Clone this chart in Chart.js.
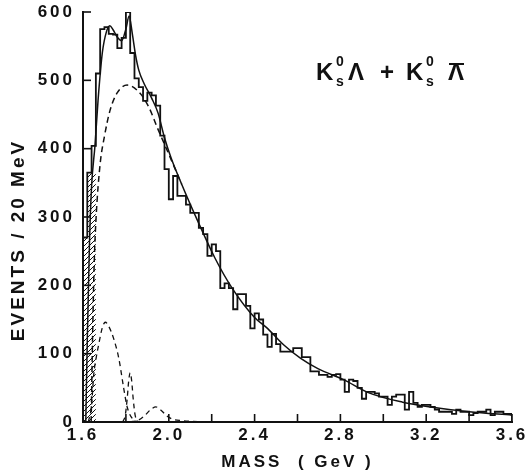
<!DOCTYPE html>
<html>
<head>
<meta charset="utf-8">
<script src="https://cdn.jsdelivr.net/npm/chart.js@4.4.0/dist/chart.umd.min.js"></script>
<style>
  html, body { margin: 0; padding: 0; background: #fff; }
  #wrap { width: 525px; height: 475px; }
</style>
</head>
<body>
<div id="wrap"><canvas id="massChart" width="525" height="475"></canvas></div>
<script>
// Histogram: 20 MeV bins starting at 1.60 GeV
const binStart = 1.60;
const binWidth = 0.02;
const hatchedBins = 3;
const counts = [
  40, 270, 365, 404, 510, 575, 578, 568, 567, 547,
  562, 600, 540, 503, 490, 470, 482, 478, 463, 419,
  370, 326, 360, 331, 331, 318, 306, 306, 284, 275,
  243, 260, 250, 196, 203, 196, 165, 187, 187, 170,
  137, 159, 150, 128, 110, 129, 114, 103, 103, 103,
  108, 108, 95, 95, 74, 74, 69, 69, 66, 69,
  70, 62, 44, 62, 60, 50, 34, 44, 44, 42,
  37, 37, 25, 37, 40, 40, 18, 44, 28, 22,
  25, 25, 22, 18, 15, 15, 15, 12, 18, 15,
  15, 10, 13, 15, 15, 18, 10, 15, 15, 12
];

// Total fit (solid line)
const fitMass = [1.613, 1.62, 1.63, 1.64, 1.656, 1.67, 1.69, 1.71, 1.725, 1.74, 1.76, 1.78, 1.80, 1.815,
  1.83, 1.845, 1.86, 1.885, 1.92, 1.95, 1.98, 2.01, 2.06, 2.135, 2.215, 2.295, 2.40, 2.46, 2.535,
  2.615, 2.695, 2.815, 2.93, 3.09, 3.22, 3.40, 3.60];
const fitEvents = [0, 120, 260, 345, 405, 470, 540, 572, 580, 574, 563, 558, 575, 594,
  568, 537, 515, 495, 474, 452, 416, 387, 348, 294, 240, 196, 153, 137, 113,
  93, 78, 62, 43, 29, 22, 15, 10];

// Background (dashed)
const bgMass = [1.638, 1.645, 1.652, 1.661, 1.68, 1.70, 1.726, 1.76, 1.806, 1.866, 1.908, 1.946, 1.993, 2.03, 2.06];
const bgEvents = [0, 130, 230, 299, 378, 418, 456, 482, 493, 481, 460, 431, 397, 370, 348];

// Resonance contributions (dashed)
const peak1Mass = [1.625, 1.64, 1.65, 1.662, 1.673, 1.69, 1.704, 1.72, 1.743, 1.767, 1.79, 1.806, 1.83, 1.86];
const peak1Events = [0, 25, 69, 95, 113, 138, 146, 140, 122, 93, 49, 22, 5, 0];
const peak2Mass = [1.785, 1.797, 1.806, 1.813, 1.82, 1.827, 1.834, 1.843, 1.858];
const peak2Events = [0, 10, 34, 60, 72, 60, 34, 10, 0];
const peak3Mass = [1.82, 1.86, 1.89, 1.915, 1.94, 1.965, 1.99, 2.02, 2.06, 2.10, 2.20];
const peak3Events = [0, 3, 10, 18, 22, 17, 9, 4, 2, 1, 0];

const yTicks = [0, 100, 200, 300, 400, 500, 600];
const xTickLabels = ['1.6', '2.0', '2.4', '2.8', '3.2', '3.6'];
const yTitle = 'EVENTS / 20 MeV';

const ink = '#111';
const fontFamily = '"Liberation Sans", Arial, sans-serif';

function histogramPoints(values) {
  const pts = [{ x: binStart, y: 0 }];
  values.forEach((v, i) => pts.push({ x: binStart + i * binWidth, y: v }));
  const end = binStart + values.length * binWidth;
  pts.push({ x: end, y: values[values.length - 1] });
  pts.push({ x: end, y: 0 });
  return pts;
}

function hatchPoints(values, n) {
  const pts = [];
  for (let i = 0; i < n; i++) pts.push({ x: binStart + i * binWidth, y: values[i] });
  pts.push({ x: binStart + n * binWidth, y: values[n - 1] });
  return pts;
}

function curve(xs, ys) {
  return xs.map((x, i) => ({ x: x, y: ys[i] }));
}

function makeHatch() {
  const c = document.createElement('canvas');
  c.width = 5; c.height = 5;
  const g = c.getContext('2d');
  g.strokeStyle = ink;
  g.lineWidth = 1;
  g.beginPath();
  g.moveTo(0, 5); g.lineTo(5, 0);
  g.moveTo(-1, 1); g.lineTo(1, -1);
  g.moveTo(4, 6); g.lineTo(6, 4);
  g.stroke();
  return g.createPattern(c, 'repeat');
}

// inward tick marks on both axes
const innerTicks = {
  id: 'innerTicks',
  afterDraw(chart) {
    const { ctx, chartArea, scales: { x, y } } = chart;
    ctx.save();
    ctx.strokeStyle = ink;
    ctx.lineWidth = 1.6;
    x.ticks.forEach(t => {
      const px = x.getPixelForValue(t.value);
      ctx.beginPath();
      ctx.moveTo(px, chartArea.bottom);
      ctx.lineTo(px, chartArea.bottom - 8);
      ctx.stroke();
    });
    y.ticks.forEach(t => {
      const py = y.getPixelForValue(t.value);
      ctx.beginPath();
      ctx.moveTo(chartArea.left, py);
      ctx.lineTo(chartArea.left + 8, py);
      ctx.stroke();
    });
    ctx.restore();
  }
};

// vertical axis title and reaction label
const labels = {
  id: 'labels',
  afterDraw(chart) {
    const ctx = chart.ctx;
    ctx.save();
    ctx.fillStyle = ink;

    ctx.save();
    ctx.translate(19, 240);
    ctx.rotate(-Math.PI / 2);
    ctx.font = 'bold 19px ' + fontFamily;
    ctx.letterSpacing = '3px';
    ctx.textAlign = 'center';
    ctx.textBaseline = 'middle';
    ctx.fillText(yTitle, 0, 0);
    ctx.restore();

    ctx.letterSpacing = '0px';
    ctx.textBaseline = 'alphabetic';
    const big = 'bold 24px ' + fontFamily;
    const small = 'bold 14px ' + fontFamily;
    ctx.font = big;
    ctx.fillText('K', 316, 80);
    ctx.fillText('\u039B', 348, 80);
    ctx.fillText('+', 380, 80);
    ctx.fillText('K', 406, 80);
    ctx.fillText('\u039B', 448, 80);
    ctx.fillRect(449, 63, 15, 2);
    ctx.font = small;
    ctx.fillText('0', 336, 66);
    ctx.fillText('s', 336, 86);
    ctx.fillText('0', 426, 66);
    ctx.fillText('s', 426, 86);
    ctx.restore();
  }
};

const spacing = {
  id: 'spacing',
  beforeDraw(chart) { chart.ctx.letterSpacing = '3px'; }
};

const ctx = document.getElementById('massChart').getContext('2d');
new Chart(ctx, {
  type: 'line',
  data: {
    datasets: [
      {
        data: hatchPoints(counts, hatchedBins),
        stepped: 'after',
        borderWidth: 0,
        backgroundColor: makeHatch(),
        fill: 'origin',
        pointRadius: 0
      },
      {
        data: histogramPoints(counts),
        stepped: 'after',
        borderColor: ink,
        borderWidth: 1.8,
        fill: false,
        pointRadius: 0
      },
      {
        data: curve(fitMass, fitEvents),
        borderColor: ink,
        borderWidth: 1.5,
        cubicInterpolationMode: 'monotone',
        fill: false,
        pointRadius: 0
      },
      {
        data: curve(bgMass, bgEvents),
        borderColor: ink,
        borderWidth: 1.5,
        borderDash: [6, 4],
        cubicInterpolationMode: 'monotone',
        fill: false,
        pointRadius: 0
      },
      {
        data: curve(peak1Mass, peak1Events),
        borderColor: ink,
        borderWidth: 1.3,
        borderDash: [5, 4],
        cubicInterpolationMode: 'monotone',
        fill: false,
        pointRadius: 0
      },
      {
        data: curve(peak2Mass, peak2Events),
        borderColor: ink,
        borderWidth: 1.3,
        borderDash: [5, 4],
        cubicInterpolationMode: 'monotone',
        fill: false,
        pointRadius: 0
      },
      {
        data: curve(peak3Mass, peak3Events),
        borderColor: ink,
        borderWidth: 1.3,
        borderDash: [5, 4],
        cubicInterpolationMode: 'monotone',
        fill: false,
        pointRadius: 0
      }
    ]
  },
  options: {
    responsive: false,
    animation: false,
    devicePixelRatio: 1,
    layout: { padding: { top: 12, right: 13, left: 0, bottom: 0 } },
    plugins: { legend: { display: false }, tooltip: { enabled: false } },
    scales: {
      x: {
        type: 'linear',
        min: 1.6,
        max: 3.6,
        grid: { display: false, drawTicks: false },
        border: { display: true, color: ink, width: 2 },
        ticks: {
          stepSize: 0.2,
          autoSkip: false,
          maxRotation: 0,
          padding: 3,
          color: ink,
          font: { family: fontFamily, size: 17, weight: 'bold' },
          callback: (value, index) => index % 2 === 0 ? xTickLabels[index / 2] : ''
        },
        title: {
          display: true,
          text: 'MASS  ( GeV )',
          color: ink,
          font: { family: fontFamily, size: 17, weight: 'bold' },
          padding: { top: 0, bottom: 2 }
        },
        afterFit(scale) {
          scale.height = 53;
          scale.paddingLeft = 0;
          scale.paddingRight = 0;
        }
      },
      y: {
        min: 0,
        max: 600,
        grid: { display: false, drawTicks: false },
        border: { display: true, color: ink, width: 2 },
        afterBuildTicks(scale) {
          scale.ticks = yTicks.map(v => ({ value: v }));
        },
        ticks: {
          padding: 8,
          color: ink,
          font: { family: fontFamily, size: 17, weight: 'bold' }
        },
        afterFit(scale) {
          scale.width = 83;
          scale.paddingTop = 0;
          scale.paddingBottom = 0;
        }
      }
    }
  },
  plugins: [spacing, innerTicks, labels]
});
</script>
</body>
</html>
